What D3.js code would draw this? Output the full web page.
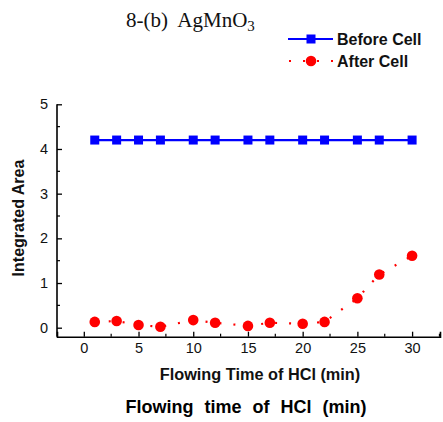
<!DOCTYPE html>
<html>
<head>
<meta charset="utf-8">
<script src="https://cdn.jsdelivr.net/npm/d3@7"></script>
<style>
	body { margin: 0; background: #fff; }
	svg { display: block; }
	text { font-family: "Liberation Sans", Arial, sans-serif; }
</style>
</head>
<body>
<div id="container"></div>
<script>
// data
const times = [1, 3, 5, 7, 10, 12, 15, 17, 20, 22, 25, 27, 30];
const beforeCell = [4.2, 4.2, 4.2, 4.2, 4.2, 4.2, 4.2, 4.2, 4.2, 4.2, 4.2, 4.2, 4.2];
const afterCell = [0.13, 0.15, 0.06, 0.02, 0.17, 0.11, 0.04, 0.11, 0.09, 0.13, 0.66, 1.19, 1.61];
const xTicks = [0, 5, 10, 15, 20, 25, 30];
const yTicks = [0, 1, 2, 3, 4, 5];

const W = 443, H = 422;
const margin = { left: 57, right: 3, top: 104, bottom: 85 };

const svg = d3.select("#container").append("svg")
	.attr("width", W)
	.attr("height", H);

const x = d3.scaleLinear().domain([-2.45, 32.55]).range([margin.left, W - margin.right]);
const y = d3.scaleLinear().domain([0, 5]).range([327.7, 104.3]);
const axisY = 336.7;

// title
const title = svg.append("text")
	.attr("x", 126)
	.attr("y", 27)
	.attr("xml:space", "preserve")
	.style("white-space", "pre")
	.style("font-family", "'Liberation Serif', 'Times New Roman', serif")
	.style("font-size", "21px")
	.attr("fill", "#111");
title.append("tspan").text("8-(b)  AgMnO");
title.append("tspan").attr("dy", 4).style("font-size", "15px").text("3");

// axes (ticks pointing inward)
const xAxis = d3.axisBottom(x).tickValues(xTicks).tickFormat(d3.format("d")).tickSize(-5).tickPadding(6);
const gx = svg.append("g").attr("transform", `translate(0,${axisY})`).call(xAxis);
gx.select(".domain").attr("stroke-width", 1.6);
gx.selectAll(".tick line").attr("stroke-width", 1.3);
gx.selectAll(".tick text").style("font-size", "14.5px").attr("fill", "#111");

const xMinor = d3.range(-2.5, 33, 5).filter(v => x(v) >= margin.left && x(v) <= W - 1);
gx.selectAll(".minor").data(xMinor).join("line")
	.attr("class", "minor")
	.attr("x1", d => x(d)).attr("x2", d => x(d))
	.attr("y1", 0).attr("y2", -3)
	.attr("stroke", "#000").attr("stroke-width", 1.2);

const yAxis = d3.axisLeft(y).tickValues(yTicks).tickFormat(d3.format("d")).tickSize(-5).tickPadding(9);
const gy = svg.append("g").attr("transform", `translate(${margin.left},0)`).call(yAxis);
gy.select(".domain").remove();
gy.append("line")
	.attr("x1", 0).attr("x2", 0)
	.attr("y1", y(5)).attr("y2", axisY)
	.attr("stroke", "#000").attr("stroke-width", 1.6);
gy.selectAll(".tick line").attr("stroke-width", 1.3);
gy.selectAll(".tick text").style("font-size", "14.5px").attr("fill", "#111");

const yMinor = d3.range(0.5, 5, 1);
gy.selectAll(".minor").data(yMinor).join("line")
	.attr("class", "minor")
	.attr("x1", 0).attr("x2", 3)
	.attr("y1", d => y(d)).attr("y2", d => y(d))
	.attr("stroke", "#000").attr("stroke-width", 1.2);

// axis labels
svg.append("text")
	.attr("transform", `translate(24,218) rotate(-90)`)
	.attr("text-anchor", "middle")
	.style("font-size", "16px")
	.style("font-weight", "bold")
	.attr("fill", "#111")
	.text("Integrated Area");

svg.append("text")
	.attr("x", 260)
	.attr("y", 380)
	.attr("text-anchor", "middle")
	.style("font-size", "16.3px")
	.style("font-weight", "bold")
	.attr("fill", "#111")
	.text("Flowing Time of HCl (min)");

svg.append("text")
	.attr("x", 246)
	.attr("y", 413)
	.attr("text-anchor", "middle")
	.style("font-size", "18px")
	.style("font-weight", "bold")
	.style("word-spacing", "6px")
	.attr("fill", "#000")
	.text("Flowing time of HCl (min)");

// before cell series
const line = d3.line().x(d => x(d[0])).y(d => y(d[1]));
const beforePts = times.map((t, i) => [t, beforeCell[i]]);
const afterPts = times.map((t, i) => [t, afterCell[i]]);

svg.append("path")
	.datum(beforePts)
	.attr("d", line)
	.attr("fill", "none")
	.attr("stroke", "#0000ff")
	.attr("stroke-width", 2.2);

svg.selectAll(".sq").data(beforePts).join("rect")
	.attr("class", "sq")
	.attr("x", d => x(d[0]) - 4.5)
	.attr("y", d => y(d[1]) - 4.5)
	.attr("width", 9).attr("height", 9)
	.attr("fill", "#0000ff");

// after cell series
svg.append("path")
	.datum(afterPts)
	.attr("d", line)
	.attr("fill", "none")
	.attr("stroke", "#ff0000")
	.attr("stroke-width", 2.2)
	.attr("stroke-dasharray", "2,12");

svg.selectAll(".dot").data(afterPts).join("circle")
	.attr("class", "dot")
	.attr("cx", d => x(d[0]))
	.attr("cy", d => y(d[1]))
	.attr("r", 5.3)
	.attr("fill", "#ff0000");

// legend
const lg = svg.append("g");
lg.append("line")
	.attr("x1", 288).attr("x2", 333).attr("y1", 39).attr("y2", 39)
	.attr("stroke", "#0000ff").attr("stroke-width", 2.2);
lg.append("rect")
	.attr("x", 306.5).attr("y", 34.5).attr("width", 9).attr("height", 9)
	.attr("fill", "#0000ff");
lg.append("text")
	.attr("x", 337).attr("y", 45)
	.style("font-size", "16px").style("font-weight", "bold")
	.attr("fill", "#111")
	.text("Before Cell");

lg.append("line")
	.attr("x1", 289).attr("x2", 333).attr("y1", 61).attr("y2", 61)
	.attr("stroke", "#ff0000").attr("stroke-width", 2.2)
	.attr("stroke-dasharray", "2,12");
lg.append("circle")
	.attr("cx", 311).attr("cy", 61).attr("r", 5.3)
	.attr("fill", "#ff0000");
lg.append("text")
	.attr("x", 337).attr("y", 67)
	.style("font-size", "16px").style("font-weight", "bold")
	.attr("fill", "#111")
	.text("After Cell");
</script>
</body>
</html>
